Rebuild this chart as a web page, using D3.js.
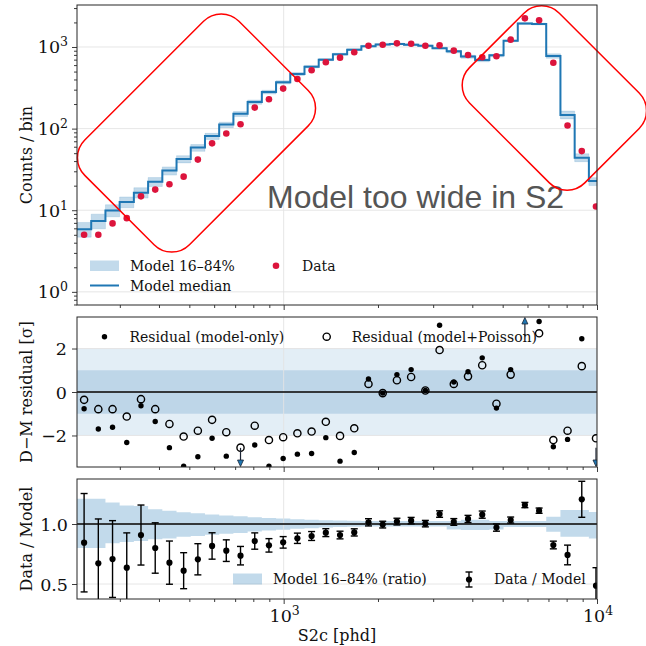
<!DOCTYPE html>
<html>
<head>
<meta charset="utf-8">
<script src="https://cdn.jsdelivr.net/npm/d3@7"></script>
<style>
    body { margin: 0; background: #fff; }
    text { font-family: "DejaVu Serif", serif; fill: #111; }
</style>
</head>
<body>
<svg id="chart" width="646" height="646"></svg>
<script>
// bin edges in S2c [phd] (log spaced, read from the step positions)
const binEdges = [219, 243.1, 269.9, 299.6, 332.6, 369.3, 410.0, 455.1, 505.2, 560.9, 622.6, 691.2, 767.4, 851.9,
    945.6, 1049.8, 1165.4, 1293.8, 1436.2, 1594.5, 1770.1, 1965.2, 2181.7, 2421.7, 2688.6, 2984.7, 3313.5,
    3678.6, 4083.2, 4533.0, 5032.4, 5586.8, 6202.3, 6885.7, 7644.0, 8486.2, 9421.2, 10459];

const dataCounts = [5.0, 5.0, 6.9, 8.0, 14.8, 17.9, 20.8, 25.8, 41.7, 66, 87, 113, 181, 229, 309, 405, 518, 649,
    740, 861, 1037, 1067, 1109, 1097, 1037, 1048, 902, 798, 748, 769, 1230, 2245, 2122, 642, 109, 53, 11.1];

const modelMedian = [5.85, 7.4, 9.9, 12.6, 16.4, 22.4, 30.6, 42.5, 58.5, 81, 112, 152, 212, 281, 370, 467, 574, 700,
    815, 925, 1023, 1072, 1087, 1067, 1034, 968, 887, 766, 694, 793, 1191, 1939, 1910, 778, 147, 44, 22.8];

// 16% and 84% model quantiles relative to the median
const bandLo = [0.80, 0.80, 0.84, 0.85, 0.858, 0.872, 0.88, 0.894, 0.90, 0.91, 0.918, 0.925, 0.938, 0.945, 0.953,
    0.96, 0.965, 0.97, 0.975, 0.978, 0.98, 0.98, 0.98, 0.98, 0.98, 0.98, 0.955, 0.95, 0.95, 0.955, 0.975, 0.975,
    0.975, 0.936, 0.894, 0.894, 0.88];
const bandHi = [1.21, 1.21, 1.18, 1.155, 1.15, 1.122, 1.11, 1.097, 1.09, 1.08, 1.07, 1.065, 1.056, 1.05, 1.045,
    1.04, 1.036, 1.032, 1.03, 1.027, 1.025, 1.025, 1.025, 1.025, 1.025, 1.025, 1.025, 1.035, 1.035, 1.025, 1.025,
    1.025, 1.025, 1.06, 1.117, 1.117, 1.10];

const ratioVal = [0.844, 0.672, 0.708, 0.636, 0.908, 0.80, 0.678, 0.611, 0.706, 0.817, 0.778, 0.736, 0.858, 0.822,
    0.847, 0.881, 0.90, 0.928, 0.908, 0.93, 1.014, 0.995, 1.02, 1.028, 1.003, 1.083, 1.017, 1.042, 1.078, 0.97,
    1.033, 1.158, 1.111, 0.825, 0.742, 1.206, 0.486];
const ratioErr = [0.41, 0.37, 0.32, 0.29, 0.25, 0.21, 0.18, 0.15, 0.13, 0.11, 0.09, 0.077, 0.068, 0.056, 0.048,
    0.043, 0.037, 0.033, 0.032, 0.03, 0.03, 0.028, 0.028, 0.027, 0.027, 0.027, 0.028, 0.03, 0.03, 0.03, 0.025,
    0.022, 0.022, 0.032, 0.082, 0.15, 0.15];

// residuals in sigma (values beyond +-3.45 are off the axis and get an arrow)
const resModel = [-0.77, -1.70, -1.62, -2.32, -0.63, -1.36, -2.56, -3.41, -2.98, -2.13, -2.95, -3.9, -2.44, -3.41,
    -3.06, -2.86, -2.83, -2.10, -3.18, -2.78, 0.60, -0.05, 0.80, 1.03, 0.07, 3.07, 0.46, 0.93, 1.57, -0.74, 1.03,
    5.0, 3.24, -2.52, -2.18, 2.45, -4.3];
const resPois = [-0.36, -0.79, -0.79, -1.13, -0.33, -0.79, -1.47, -2.05, -1.78, -1.28, -1.85, -2.56, -1.55, -2.21,
    -2.08, -1.90, -1.82, -1.37, -2.02, -1.67, 0.37, -0.05, 0.54, 0.69, 0.07, 1.93, 0.37, 0.72, 1.23, -0.54, 0.80,
    3.6, 2.70, -2.21, -1.78, 1.19, -2.13];

const majorX = [1000, 10000];
const minorX = [300, 400, 500, 600, 700, 800, 900, 2000, 3000, 4000, 5000, 6000, 7000, 8000, 9000];
const majorY1 = [1, 10, 100, 1000];
const minorY1 = [0.7, 0.8, 0.9, 2, 3, 4, 5, 6, 7, 8, 9, 20, 30, 40, 50, 60, 70, 80, 90,
    200, 300, 400, 500, 600, 700, 800, 900, 2000, 3000];
const ticksY2 = [-2, 0, 2];
const ticksY3 = [0.5, 1.0];

// layout
let left = 77, right = 597;
let p1 = {top: 5, bottom: 305};
let p2 = {top: 317, bottom: 467};
let p3 = {top: 479, bottom: 599};
let blue = "#1f77b4";
let gridColor = "#e3e3e3";
let axisColor = "#262626";

let svg = d3.select("#chart");

let x = d3.scaleLog().domain([219, 10000]).range([left, right]);
let y1 = d3.scaleLog().domain([0.69, 3270]).range([p1.bottom, p1.top]);
let y2 = d3.scaleLinear().domain([-3.45, 3.45]).range([p2.bottom, p2.top]);
let y3 = d3.scaleLinear().domain([0.375, 1.375]).range([p3.bottom, p3.top]);

let bins = modelMedian.map(function (m, i) {
    return {
        x0: binEdges[i], x1: binEdges[i + 1], xc: Math.sqrt(binEdges[i] * binEdges[i + 1]),
        m: m, data: dataCounts[i], lo: bandLo[i], hi: bandHi[i],
        ratio: ratioVal[i], err: ratioErr[i], rm: resModel[i], rp: resPois[i]
    };
});

// step points: two per bin, so the line/area draws the vertical risers by itself
let stepPts = bins.flatMap(function (b) {
    return [{x: b.x0, b: b}, {x: b.x1, b: b}];
});

let defs = svg.append("defs");
[p1, p2, p3].forEach(function (p, i) {
    defs.append("clipPath").attr("id", "clip" + (i + 1))
        .append("rect")
        .attr("x", left).attr("y", p.top)
        .attr("width", right - left).attr("height", p.bottom - p.top);
});

function gridLines(g, xs, ys, yScale) {
    xs.forEach(function (v) {
        g.append("line").attr("x1", x(v)).attr("x2", x(v))
            .attr("y1", yScale.range()[1]).attr("y2", yScale.range()[0])
            .attr("stroke", gridColor).attr("stroke-width", 0.9);
    });
    ys.forEach(function (v) {
        g.append("line").attr("x1", left).attr("x2", right)
            .attr("y1", yScale(v)).attr("y2", yScale(v))
            .attr("stroke", gridColor).attr("stroke-width", 0.9);
    });
}

function xTicks(yPos) {
    let gMaj = svg.append("g").attr("transform", "translate(0," + yPos + ")")
        .call(d3.axisBottom(x).tickValues(majorX).tickSize(5).tickFormat(""));
    let gMin = svg.append("g").attr("transform", "translate(0," + yPos + ")")
        .call(d3.axisBottom(x).tickValues(minorX).tickSize(3).tickFormat(""));
    [gMaj, gMin].forEach(function (g) {
        g.select(".domain").remove();
        g.selectAll("line").attr("stroke", axisColor).attr("stroke-width", 0.9);
    });
}

function frame(p) {
    svg.append("rect").attr("x", left).attr("y", p.top)
        .attr("width", right - left).attr("height", p.bottom - p.top)
        .attr("fill", "none").attr("stroke", axisColor).attr("stroke-width", 1);
}

function powLabel(g, px, py, exp, anchor) {
    let t = g.append("text").attr("x", px).attr("y", py)
        .attr("text-anchor", anchor).style("font-size", "17.5px");
    t.append("tspan").text("10");
    t.append("tspan").attr("dy", -7).style("font-size", "12.5px").text(exp);
}

function yLabel(text, cy) {
    svg.append("text")
        .attr("transform", "translate(32," + cy + ") rotate(-90)")
        .attr("text-anchor", "middle")
        .style("font-size", "16px")
        .text(text);
}

// ---------------- top panel: counts ----------------
let g1 = svg.append("g");
gridLines(g1, majorX, majorY1, y1);

let plot1 = svg.append("g").attr("clip-path", "url(#clip1)");

plot1.append("path")
    .datum(stepPts)
    .attr("d", d3.area()
        .x(function (d) { return x(d.x); })
        .y0(function (d) { return y1(d.b.m * d.b.lo); })
        .y1(function (d) { return y1(d.b.m * d.b.hi); }))
    .attr("fill", blue).attr("fill-opacity", 0.27)
    .attr("stroke", blue).attr("stroke-opacity", 0.15).attr("stroke-width", 1);

plot1.append("path")
    .datum(stepPts)
    .attr("d", d3.line()
        .x(function (d) { return x(d.x); })
        .y(function (d) { return y1(d.b.m); }))
    .attr("fill", "none").attr("stroke", blue).attr("stroke-width", 2);

plot1.selectAll(".dataPt")
    .data(bins)
    .enter()
    .append("circle")
    .attr("class", "dataPt")
    .attr("cx", function (d) { return x(d.xc); })
    .attr("cy", function (d) { return y1(d.data); })
    .attr("r", 3.3)
    .attr("fill", "#dc143c");

// y ticks of the log axis
let gy1 = svg.append("g").attr("transform", "translate(" + left + ",0)");
gy1.call(d3.axisLeft(y1).tickValues(majorY1).tickSize(5).tickFormat(""));
let gy1m = svg.append("g").attr("transform", "translate(" + left + ",0)");
gy1m.call(d3.axisLeft(y1).tickValues(minorY1).tickSize(3).tickFormat(""));
[gy1, gy1m].forEach(function (g) {
    g.select(".domain").remove();
    g.selectAll("line").attr("stroke", axisColor).attr("stroke-width", 0.9);
});
majorY1.forEach(function (v, i) {
    powLabel(svg, 68, y1(v) + 6.5, String(i), "end");
});
xTicks(p1.bottom);
yLabel("Counts / bin", 155);

// legend
let leg1 = svg.append("g");
leg1.append("rect").attr("x", 90).attr("y", 260.5).attr("width", 29).attr("height", 10.5)
    .attr("fill", blue).attr("fill-opacity", 0.27);
leg1.append("text").attr("x", 130).attr("y", 271).style("font-size", "14px").text("Model 16–84%");
leg1.append("line").attr("x1", 90).attr("x2", 119).attr("y1", 285.5).attr("y2", 285.5)
    .attr("stroke", blue).attr("stroke-width", 2);
leg1.append("text").attr("x", 130).attr("y", 291).style("font-size", "14px").text("Model median");
leg1.append("circle").attr("cx", 276).attr("cy", 265.7).attr("r", 3.3).attr("fill", "#dc143c");
leg1.append("text").attr("x", 302).attr("y", 271).style("font-size", "14px").text("Data");

// annotation
svg.append("text")
    .attr("x", 267).attr("y", 208)
    .style("font-family", "'Liberation Sans', Arial, sans-serif")
    .style("font-size", "32px")
    .style("fill", "#555")
    .text("Model too wide in S2");

// red rounded boxes, centres given in data units
let boxes = [
    {s2: 527, counts: 88.5, w: 218, h: 148},
    {s2: 7310, counts: 237, w: 127, h: 163}
];
boxes.forEach(function (bx) {
    svg.append("g")
        .attr("transform", "translate(" + x(bx.s2) + "," + y1(bx.counts) + ") rotate(-45)")
        .append("rect")
        .attr("x", -bx.w / 2).attr("y", -bx.h / 2)
        .attr("width", bx.w).attr("height", bx.h)
        .attr("rx", 25).attr("ry", 25)
        .attr("fill", "none").attr("stroke", "#ff0000").attr("stroke-width", 1.5);
});

frame(p1);

// ---------------- middle panel: residuals ----------------
let plot2 = svg.append("g").attr("clip-path", "url(#clip2)");
plot2.append("rect").attr("x", left).attr("width", right - left)
    .attr("y", y2(2)).attr("height", y2(-2) - y2(2)).attr("fill", "#e3eef6");
plot2.append("rect").attr("x", left).attr("width", right - left)
    .attr("y", y2(1)).attr("height", y2(-1) - y2(1)).attr("fill", "#bed6e8");
gridLines(plot2, majorX, ticksY2, y2);
plot2.append("line").attr("x1", left).attr("x2", right).attr("y1", y2(0)).attr("y2", y2(0))
    .attr("stroke", "#000").attr("stroke-width", 1.3);

let yMax2 = y2.domain()[1];

plot2.selectAll(".resP")
    .data(bins.filter(function (d) { return Math.abs(d.rp) <= yMax2; }))
    .enter()
    .append("circle")
    .attr("class", "resP")
    .attr("cx", function (d) { return x(d.xc); })
    .attr("cy", function (d) { return y2(d.rp); })
    .attr("r", 3.6)
    .attr("fill", "none").attr("stroke", "#000").attr("stroke-width", 1.4);

plot2.selectAll(".resM")
    .data(bins.filter(function (d) { return Math.abs(d.rm) <= yMax2; }))
    .enter()
    .append("circle")
    .attr("class", "resM")
    .attr("cx", function (d) { return x(d.xc); })
    .attr("cy", function (d) { return y2(d.rm); })
    .attr("r", 2.7)
    .attr("fill", "#000");

// arrows for residuals that fall outside the axis
let offScale = bins.filter(function (d) { return Math.abs(d.rm) > yMax2; });
offScale.forEach(function (d) {
    let sgn = d.rm > 0 ? 1 : -1;
    let cx = x(d.xc);
    let yStart = y2(sgn * (yMax2 - 0.88));
    let yEnd = y2(sgn * yMax2);
    plot2.append("line").attr("x1", cx).attr("x2", cx)
        .attr("y1", yStart).attr("y2", yEnd + sgn * 6)
        .attr("stroke", "#1b2433").attr("stroke-width", 1.2);
    plot2.append("path")
        .attr("d", "M" + (cx - 3) + "," + (yEnd + sgn * 7) + "L" + (cx + 3) + "," + (yEnd + sgn * 7) +
            "L" + cx + "," + (yEnd + sgn * 0.5) + "Z")
        .attr("fill", blue).attr("stroke", "#1b2433").attr("stroke-width", 0.8);
});

let gy2 = svg.append("g").attr("transform", "translate(" + left + ",0)")
    .call(d3.axisLeft(y2).tickValues(ticksY2).tickSize(5).tickFormat(""));
gy2.select(".domain").remove();
gy2.selectAll("line").attr("stroke", axisColor).attr("stroke-width", 0.9);
ticksY2.forEach(function (v) {
    svg.append("text").attr("x", 67).attr("y", y2(v) + 6.5)
        .attr("text-anchor", "end").style("font-size", "17.5px")
        .text(d3.format("d")(v).replace("-", "−"));
});
xTicks(p2.bottom);
yLabel("D−M residual [σ]", (p2.top + p2.bottom) / 2);

let leg2 = svg.append("g");
leg2.append("circle").attr("cx", 104.5).attr("cy", 336.7).attr("r", 2.7).attr("fill", "#000");
leg2.append("text").attr("x", 129.5).attr("y", 341.7).style("font-size", "14px").text("Residual (model-only)");
leg2.append("circle").attr("cx", 326.7).attr("cy", 336.7).attr("r", 3.6)
    .attr("fill", "none").attr("stroke", "#000").attr("stroke-width", 1.4);
leg2.append("text").attr("x", 351.7).attr("y", 341.7).style("font-size", "14px").text("Residual (model+Poisson)");

frame(p2);

// ---------------- bottom panel: data / model ----------------
let plot3 = svg.append("g").attr("clip-path", "url(#clip3)");
plot3.append("path")
    .datum(stepPts)
    .attr("d", d3.area()
        .x(function (d) { return x(d.x); })
        .y0(function (d) { return y3(d.b.lo); })
        .y1(function (d) { return y3(d.b.hi); }))
    .attr("fill", blue).attr("fill-opacity", 0.27);
gridLines(plot3, majorX, ticksY3, y3);
plot3.append("line").attr("x1", left).attr("x2", right).attr("y1", y3(1)).attr("y2", y3(1))
    .attr("stroke", "#000").attr("stroke-width", 1.3);

let eb = plot3.selectAll(".eb")
    .data(bins)
    .enter()
    .append("g")
    .attr("class", "eb");
eb.append("line")
    .attr("x1", function (d) { return x(d.xc); })
    .attr("x2", function (d) { return x(d.xc); })
    .attr("y1", function (d) { return y3(d.ratio - d.err); })
    .attr("y2", function (d) { return y3(d.ratio + d.err); })
    .attr("stroke", "#000").attr("stroke-width", 1.4);
[-1, 1].forEach(function (s) {
    eb.append("line")
        .attr("x1", function (d) { return x(d.xc) - 3.5; })
        .attr("x2", function (d) { return x(d.xc) + 3.5; })
        .attr("y1", function (d) { return y3(d.ratio + s * d.err); })
        .attr("y2", function (d) { return y3(d.ratio + s * d.err); })
        .attr("stroke", "#000").attr("stroke-width", 1.4);
});
eb.append("circle")
    .attr("cx", function (d) { return x(d.xc); })
    .attr("cy", function (d) { return y3(d.ratio); })
    .attr("r", 3.1)
    .attr("fill", "#000");

let gy3 = svg.append("g").attr("transform", "translate(" + left + ",0)")
    .call(d3.axisLeft(y3).tickValues(ticksY3).tickSize(5).tickFormat(""));
gy3.select(".domain").remove();
gy3.selectAll("line").attr("stroke", axisColor).attr("stroke-width", 0.9);
ticksY3.forEach(function (v) {
    svg.append("text").attr("x", 68).attr("y", y3(v) + 6.5)
        .attr("text-anchor", "end").style("font-size", "17.5px")
        .text(d3.format(".1f")(v));
});
xTicks(p3.bottom);
majorX.forEach(function (v) {
    powLabel(svg, x(v) + 1, 622, String(Math.round(Math.log10(v))), "middle");
});
yLabel("Data / Model", (p3.top + p3.bottom) / 2);
svg.append("text").attr("x", (left + right) / 2).attr("y", 641)
    .attr("text-anchor", "middle").style("font-size", "16px").text("S2c [phd]");

let leg3 = svg.append("g");
leg3.append("rect").attr("x", 233).attr("y", 573.5).attr("width", 29).attr("height", 11)
    .attr("fill", blue).attr("fill-opacity", 0.27);
leg3.append("text").attr("x", 273).attr("y", 584).style("font-size", "14px").text("Model 16–84% (ratio)");
leg3.append("line").attr("x1", 469).attr("x2", 469).attr("y1", 572).attr("y2", 587)
    .attr("stroke", "#000").attr("stroke-width", 1.4);
[572, 587].forEach(function (yy) {
    leg3.append("line").attr("x1", 465.5).attr("x2", 472.5).attr("y1", yy).attr("y2", yy)
        .attr("stroke", "#000").attr("stroke-width", 1.4);
});
leg3.append("circle").attr("cx", 469).attr("cy", 579.5).attr("r", 3.1).attr("fill", "#000");
leg3.append("text").attr("x", 494).attr("y", 584).style("font-size", "14px").text("Data / Model");

frame(p3);
</script>
</body>
</html>
